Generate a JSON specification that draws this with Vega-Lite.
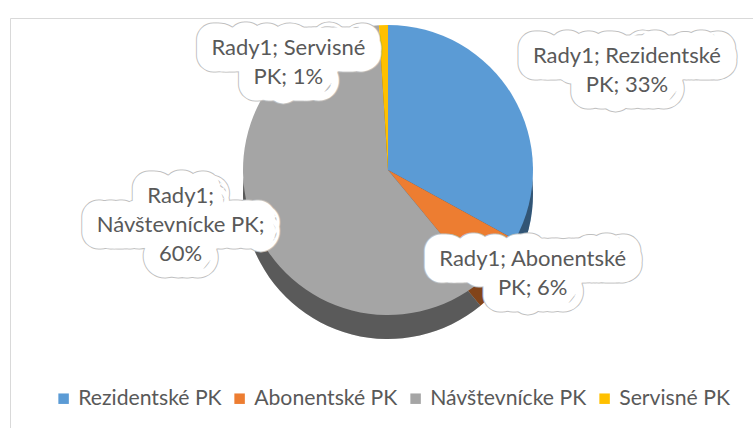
{
  "$schema": "https://vega.github.io/schema/vega-lite/v6.json",
  "width": 743,
  "height": 410,
  "autosize": {"type": "none"},
  "padding": {"left": 10, "top": 18, "right": 0, "bottom": 0},
  "background": "white",
  "view": {"stroke": "#d9d9d9", "strokeWidth": 1},
  "config": {"view": {"stroke": "#d9d9d9"}, "font": "Lato"},
  "data": {
    "values": [
      {"category": "Rezidentské PK", "value": 33, "order": 1, "label": ["Rady1; Rezidentské", "PK; 33%"]},
      {"category": "Abonentské PK", "value": 6, "order": 2, "label": ["Rady1; Abonentské", "PK; 6%"]},
      {"category": "Návštevnícke PK", "value": 60, "order": 3, "label": ["Rady1;", "Návštevnícke PK;", "60%"]},
      {"category": "Servisné PK", "value": 1, "order": 4, "label": ["Rady1; Servisné", "PK; 1%"]}
    ]
  },
  "encoding": {
    "theta": {"field": "value", "type": "quantitative", "stack": true},
    "order": {"field": "order", "type": "quantitative"}
  },
  "layer": [
    {
      "mark": {"type": "arc", "outerRadius": 145, "xOffset": 6.5, "yOffset": -29},
      "encoding": {
        "color": {
          "field": "category", "type": "nominal",
          "scale": {"domain": ["Rezidentské PK", "Abonentské PK", "Návštevnícke PK", "Servisné PK"], "range": ["#5B9BD5", "#ED7D31", "#A5A5A5", "#FFC000"]},
          "legend": {"title": null, "orient": "none", "legendX": 43, "legendY": 370, "direction": "horizontal", "symbolType": "square", "symbolSize": 110, "symbolStrokeWidth": 0, "labelFontSize": 21.2, "labelLimit": 400, "labelColor": "#595959", "labelFont": "Lato", "columnPadding": 7, "labelOffset": 4}
        }
      }
    },
    {
      "mark": {"type": "arc", "outerRadius": 145, "xOffset": 6.5, "yOffset": -29, "color": "black", "opacity": 0.45}
    },
    {
      "mark": {"type": "arc", "outerRadius": 145, "xOffset": 6.5, "yOffset": -53},
      "encoding": {
        "color": {
          "field": "category", "type": "nominal",
          "scale": {"domain": ["Rezidentské PK", "Abonentské PK", "Návštevnícke PK", "Servisné PK"], "range": ["#5B9BD5", "#ED7D31", "#A5A5A5", "#FFC000"]},
          "legend": {"title": null, "orient": "none", "legendX": 43, "legendY": 370, "direction": "horizontal", "symbolType": "square", "symbolSize": 110, "symbolStrokeWidth": 0, "labelFontSize": 21.2, "labelLimit": 400, "labelColor": "#595959", "labelFont": "Lato", "columnPadding": 7, "labelOffset": 4}
        }
      }
    },
    {
      "mark": {"type": "text", "radius": 180, "xOffset": 6.5, "yOffset": -53, "dx": 84, "dy": -22, "fontSize": 22, "lineHeight": 29, "fill": "#BFBFBF", "stroke": "#BFBFBF", "strokeWidth": 35, "strokeJoin": "round", "align": "center", "baseline": "middle"},
      "encoding": {"text": {"condition": {"test": "datum.category === 'Rezidentské PK'", "field": "label"}, "value": ""}}
    },
    {
      "mark": {"type": "text", "radius": 180, "xOffset": 6.5, "yOffset": -53, "dx": 6, "dy": -26, "fontSize": 22, "lineHeight": 29, "fill": "#BFBFBF", "stroke": "#BFBFBF", "strokeWidth": 35, "strokeJoin": "round", "align": "center", "baseline": "middle"},
      "encoding": {"text": {"condition": {"test": "datum.category === 'Abonentské PK'", "field": "label"}, "value": ""}}
    },
    {
      "mark": {"type": "text", "radius": 180, "xOffset": 6.5, "yOffset": -53, "dx": -40, "dy": -40, "fontSize": 22, "lineHeight": 29, "fill": "#BFBFBF", "stroke": "#BFBFBF", "strokeWidth": 35, "strokeJoin": "round", "align": "center", "baseline": "middle"},
      "encoding": {"text": {"condition": {"test": "datum.category === 'Návštevnícke PK'", "field": "label"}, "value": ""}}
    },
    {
      "mark": {"type": "text", "radius": 180, "xOffset": 6.5, "yOffset": -53, "dx": -94, "dy": 58, "fontSize": 22, "lineHeight": 29, "fill": "#BFBFBF", "stroke": "#BFBFBF", "strokeWidth": 35, "strokeJoin": "round", "align": "center", "baseline": "middle"},
      "encoding": {"text": {"condition": {"test": "datum.category === 'Servisné PK'", "field": "label"}, "value": ""}}
    },
    {
      "mark": {"type": "text", "radius": 180, "xOffset": 6.5, "yOffset": -53, "dx": 84, "dy": -22, "fontSize": 22, "lineHeight": 29, "fill": "white", "stroke": "white", "strokeWidth": 33, "strokeJoin": "round", "align": "center", "baseline": "middle"},
      "encoding": {"text": {"condition": {"test": "datum.category === 'Rezidentské PK'", "field": "label"}, "value": ""}}
    },
    {
      "mark": {"type": "text", "radius": 180, "xOffset": 6.5, "yOffset": -53, "dx": 6, "dy": -26, "fontSize": 22, "lineHeight": 29, "fill": "white", "stroke": "white", "strokeWidth": 33, "strokeJoin": "round", "align": "center", "baseline": "middle"},
      "encoding": {"text": {"condition": {"test": "datum.category === 'Abonentské PK'", "field": "label"}, "value": ""}}
    },
    {
      "mark": {"type": "text", "radius": 180, "xOffset": 6.5, "yOffset": -53, "dx": -40, "dy": -40, "fontSize": 22, "lineHeight": 29, "fill": "white", "stroke": "white", "strokeWidth": 33, "strokeJoin": "round", "align": "center", "baseline": "middle"},
      "encoding": {"text": {"condition": {"test": "datum.category === 'Návštevnícke PK'", "field": "label"}, "value": ""}}
    },
    {
      "mark": {"type": "text", "radius": 180, "xOffset": 6.5, "yOffset": -53, "dx": -94, "dy": 58, "fontSize": 22, "lineHeight": 29, "fill": "white", "stroke": "white", "strokeWidth": 33, "strokeJoin": "round", "align": "center", "baseline": "middle"},
      "encoding": {"text": {"condition": {"test": "datum.category === 'Servisné PK'", "field": "label"}, "value": ""}}
    },
    {
      "mark": {"type": "text", "radius": 180, "xOffset": 6.5, "yOffset": -53, "dx": 84, "dy": -22, "fontSize": 22, "lineHeight": 29, "color": "#595959", "align": "center", "baseline": "middle"},
      "encoding": {"text": {"condition": {"test": "datum.category === 'Rezidentské PK'", "field": "label"}, "value": ""}}
    },
    {
      "mark": {"type": "text", "radius": 180, "xOffset": 6.5, "yOffset": -53, "dx": 6, "dy": -26, "fontSize": 22, "lineHeight": 29, "color": "#595959", "align": "center", "baseline": "middle"},
      "encoding": {"text": {"condition": {"test": "datum.category === 'Abonentské PK'", "field": "label"}, "value": ""}}
    },
    {
      "mark": {"type": "text", "radius": 180, "xOffset": 6.5, "yOffset": -53, "dx": -40, "dy": -40, "fontSize": 22, "lineHeight": 29, "color": "#595959", "align": "center", "baseline": "middle"},
      "encoding": {"text": {"condition": {"test": "datum.category === 'Návštevnícke PK'", "field": "label"}, "value": ""}}
    },
    {
      "mark": {"type": "text", "radius": 180, "xOffset": 6.5, "yOffset": -53, "dx": -94, "dy": 58, "fontSize": 22, "lineHeight": 29, "color": "#595959", "align": "center", "baseline": "middle"},
      "encoding": {"text": {"condition": {"test": "datum.category === 'Servisné PK'", "field": "label"}, "value": ""}}
    }
  ]
}
